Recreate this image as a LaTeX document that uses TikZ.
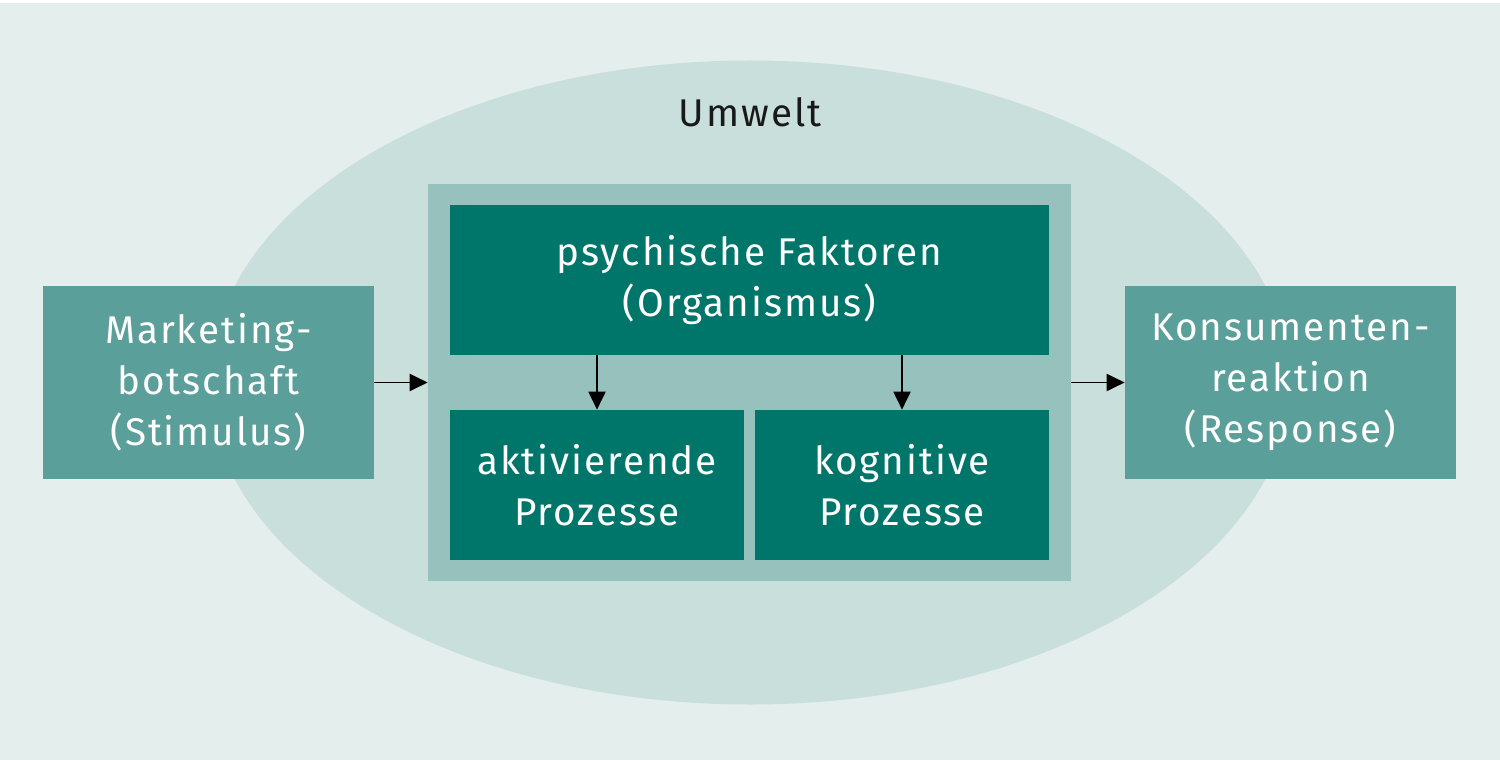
\documentclass[tikz,border=0pt]{standalone}
\usepackage{fontspec}
\setmainfont{Fira Sans}[LetterSpace=5]
\usetikzlibrary{arrows.meta,positioning,shapes.geometric}

\definecolor{bgcol}{HTML}{E4EEED}
\definecolor{umweltcol}{HTML}{C9DFDC}
\definecolor{orgcol}{HTML}{96C1BD}
\definecolor{sidecol}{HTML}{5A9F99}
\definecolor{darkteal}{HTML}{00766B}

\tikzset{
  sidebox/.style={fill=sidecol, text=white, align=center, inner sep=0pt,
    minimum width=6.62cm, minimum height=3.86cm},
  procbox/.style={fill=darkteal, text=white, align=center, inner sep=0pt,
    minimum width=5.88cm, minimum height=3.0cm},
  arr/.style={-{Triangle[length=3.6mm,width=3.4mm]}, line width=1.1pt, black},
}

\begin{document}
\begin{tikzpicture}[x=0.02cm, y=-0.02cm, font=\fontsize{22}{29}\selectfont]
% Background and environment
\fill[bgcol] (0,0) rectangle (1500,760);
\fill[white] (0,0) rectangle (1500,3);
\fill[umweltcol] (750,382.5) ellipse [x radius=540, y radius=322];
\node[text=black!90] (umwelt) at (750,112) {Umwelt};

% Organism block
\node[fill=orgcol, minimum width=12.86cm, minimum height=7.94cm, inner sep=0pt] (organism) at (749.5,382.5) {};
\node[procbox, minimum width=11.98cm] (psych) at (749.5,280) {psychische Faktoren\\(Organismus)};
\node[procbox] (aktiv) at (597,485) {aktivierende\\Prozesse};
\node[procbox] (kogn) at (902,485) {kognitive\\Prozesse};

% Stimulus and response
\node[sidebox] (stimulus) at (208.5,382.5) {Marketing-\\botschaft\\(Stimulus)};
\node[sidebox] (response) at (1290.5,382.5) {Konsumenten-\\reaktion\\(Response)};

% Arrows
\draw[arr] (stimulus.east) -- (organism.west);
\draw[arr] (organism.east) -- (response.west);
\draw[arr] (aktiv.north |- psych.south) -- (aktiv.north);
\draw[arr] (kogn.north |- psych.south) -- (kogn.north);
\end{tikzpicture}
\end{document}
